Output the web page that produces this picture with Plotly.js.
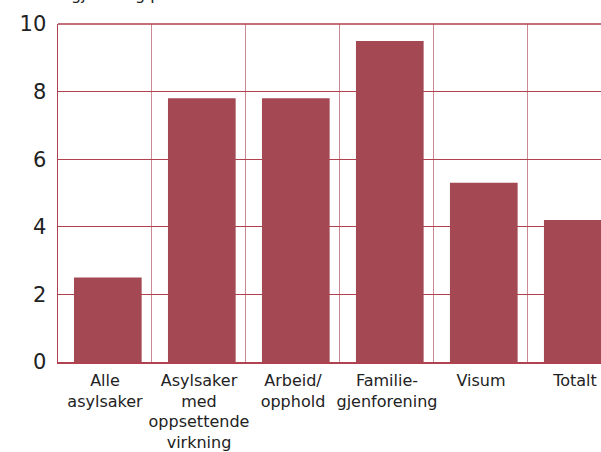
<!DOCTYPE html>
<html>
<head>
<meta charset="utf-8">
<script src="https://cdn.plot.ly/plotly-3.0.1.min.js"></script>
<style>html,body{margin:0;padding:0;background:#fff;overflow:hidden}#chart{width:601px;height:452px}</style>
</head>
<body>
<div id="chart"></div>
<script>
const categories = ["Alle<br>asylsaker", "Asylsaker<br>med<br>oppsettende<br>virkning", "Arbeid/<br>opphold", "Familie-<br>gjenforening", "Visum", "Totalt"];
const values = [2.5, 7.8, 7.8, 9.5, 5.3, 4.2];
const yTicks = [0, 2, 4, 6, 8, 10];

const barColor = "#A44853";
const gridColor = "#B0414F";
const font = "DejaVu Sans, sans-serif";

Plotly.newPlot("chart", [{
  type: "bar",
  x: categories,
  y: values,
  width: 0.72,
  offset: -0.33,
  marker: {color: barColor, line: {width: 0}},
  hoverinfo: "none"
}], {
  width: 601, height: 452,
  margin: {l: 58, r: 0, t: 24, b: 90, pad: 0},
  paper_bgcolor: "#fff", plot_bgcolor: "#fff",
  showlegend: false,
  font: {family: font, color: "#222"},
  xaxis: {
    type: "category",
    range: [-0.5, 5.277],
    tickson: "boundaries",
    ticks: "",
    tickangle: 0,
    showgrid: true, gridcolor: "#C98A92", gridwidth: 1,
    showline: true, linecolor: gridColor, linewidth: 1.5,
    tickfont: {family: font, size: 16, color: "#222"},
    ticklabelstandoff: 3,
    fixedrange: true
  },
  yaxis: {
    range: [0, 10],
    tickvals: yTicks,
    ticktext: yTicks.map(String),
    ticks: "",
    showgrid: true, gridcolor: gridColor, gridwidth: 1,
    zeroline: false,
    showline: true, linecolor: gridColor, linewidth: 1.5,
    mirror: false,
    tickfont: {family: font, size: 21, color: "#222"},
    ticklabelstandoff: 6,
    fixedrange: true
  },
  shapes: [{type: "line", xref: "paper", yref: "paper", x0: 0, x1: 1, y0: 1, y1: 1, line: {color: gridColor, width: 1.5}}],
  annotations: [{
    xref: "paper", yref: "paper", x: 0, y: 1, xanchor: "left", yanchor: "bottom",
    xshift: 11, yshift: 18, showarrow: false,
    text: "gj.snittlig per sak",
    font: {family: font, size: 16, color: "#222"}
  }]
}, {displayModeBar: false, staticPlot: true});
</script>
</body>
</html>
